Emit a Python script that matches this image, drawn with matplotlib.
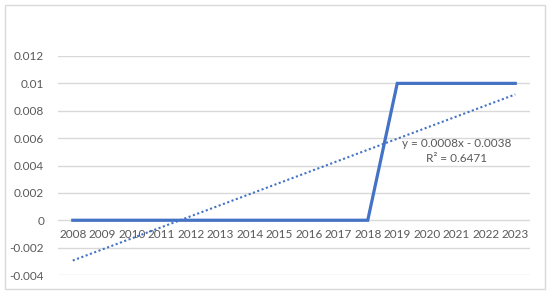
import matplotlib.pyplot as plt
import numpy as np
from matplotlib.patches import Rectangle

plt.rcParams['font.family'] = ['Lato', 'DejaVu Sans']

# data
years = ['2008', '2009', '2010', '2011', '2012', '2013', '2014', '2015',
         '2016', '2017', '2018', '2019', '2020', '2021', '2022', '2023']
values = [0, 0, 0, 0, 0, 0, 0, 0, 0, 0, 0, 0.01, 0.01, 0.01, 0.01, 0.01]
y_ticks = [-0.004, -0.002, 0, 0.002, 0.004, 0.006, 0.008, 0.01, 0.012]
y_labels = ['-0.004', '-0.002', '0', '0.002', '0.004', '0.006', '0.008', '0.01', '0.012']

grey = '#595959'
blue = '#4472C4'

fig = plt.figure(figsize=(5.5, 2.94), dpi=100)
fig.patches.append(Rectangle((5 / 550, 5 / 294), 540 / 550, 284 / 294,
                             transform=fig.transFigure, fill=False,
                             edgecolor='#d9d9d9', linewidth=1))
ax = fig.add_axes([58 / 550, 19 / 294, 472 / 550, 219 / 294])

x = np.arange(len(years))
ax.plot(x, values, color=blue, linewidth=2.3, solid_joinstyle='miter', zorder=3)

# linear trendline (x = 1..n like Excel)
xs = x + 1
slope, intercept = np.polyfit(xs, values, 1)
fit = slope * xs + intercept
vals = np.array(values)
r2 = 1 - np.sum((vals - fit) ** 2) / np.sum((vals - vals.mean()) ** 2)
ax.plot(x, fit, color=blue, linewidth=1.5, linestyle=(0, (1, 1.2)), zorder=2)
# Excel rounds half up
eq = f'y = {slope + 1e-10:.4f}x - {abs(intercept) + 1e-10:.4f}'
ax.text(13.0, 0.0056, eq, ha='center', va='center', color=grey, fontsize=8.5)
ax.text(13.0, 0.0045, f'R² = {r2:.4f}', ha='center', va='center', color=grey, fontsize=8.5)

ax.set_xlim(-0.5, len(years) - 0.5)
ax.set_ylim(-0.004, 0.012)
ax.set_yticks(y_ticks)
ax.set_yticklabels(y_labels)
ax.set_xticks(x)
ax.set_xticklabels(years)
ax.grid(axis='y', color='#d9d9d9', linewidth=1)
ax.set_axisbelow(True)
for s in ['top', 'right', 'left']:
    ax.spines[s].set_visible(False)
ax.spines['bottom'].set_position(('data', 0))
ax.spines['bottom'].set_visible(False)
ax.tick_params(axis='both', length=0, colors=grey, labelsize=8.5)
ax.tick_params(axis='y', pad=10)
ax.tick_params(axis='x', pad=6)

fig.savefig('out.png', dpi=100)
